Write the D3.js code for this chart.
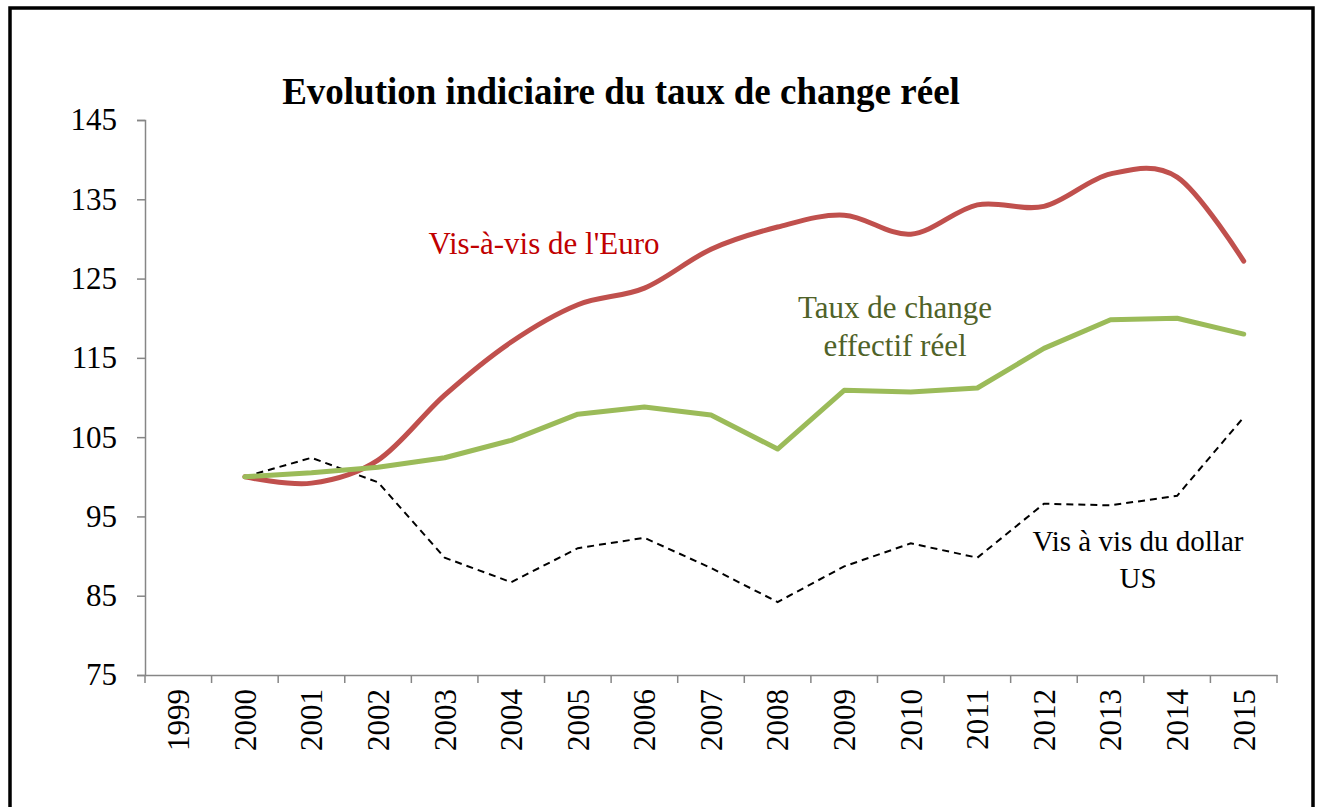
<!DOCTYPE html>
<html>
<head>
<meta charset="utf-8">
<script src="https://cdn.jsdelivr.net/npm/d3@7"></script>
<style>
  body { margin: 0; background: #fff; }
  svg text { font-family: "Liberation Serif", "Times New Roman", serif; }
</style>
</head>
<body>
<div id="chart"></div>
<script>
// data
var years = ["1999", "2000", "2001", "2002", "2003", "2004", "2005", "2006", "2007",
  "2008", "2009", "2010", "2011", "2012", "2013", "2014", "2015"];
var seriesYears = years.slice(1);
var euro = [100, 99.2, 102.1, 110.3, 117.0, 121.7, 123.8, 128.7, 131.5, 133.0, 130.6, 134.3, 134.1, 138.2, 137.8, 127.2];
var effectif = [100, 100.5, 101.2, 102.4, 104.6, 107.9, 108.8, 107.8, 103.5, 110.9, 110.7, 111.2, 116.2, 119.8, 120.0, 118.0];
var dollar = [100, 102.4, 99.3, 89.8, 86.7, 91.0, 92.3, 88.5, 84.2, 88.7, 91.6, 89.8, 96.6, 96.4, 97.6, 107.5];
var yTicks = [75, 85, 95, 105, 115, 125, 135, 145];

// dimensions
var svgWidth = 1317;
var svgHeight = 807;
var margin = { top: 120, right: 40, bottom: 132, left: 145 };
var width = 1277 - margin.left;
var height = 675 - margin.top;
var fontSize = 31;

var svg = d3.select("#chart").append("svg")
  .attr("width", svgWidth)
  .attr("height", svgHeight);

// outer frame
svg.append("rect")
  .attr("x", 10).attr("y", 8)
  .attr("width", 1303).attr("height", 830)
  .attr("fill", "none")
  .attr("stroke", "#000")
  .attr("stroke-width", 3.5);

svg.append("text")
  .attr("x", 621).attr("y", 104)
  .attr("text-anchor", "middle")
  .attr("font-size", 37)
  .attr("font-weight", "bold")
  .text("Evolution indiciaire du taux de change réel");

var chartGroup = svg.append("g")
  .attr("transform", `translate(${margin.left}, ${margin.top})`);

// scales
var xScale = d3.scaleBand().domain(years).range([0, width]);
var yScale = d3.scaleLinear().domain([75, 145]).range([height, 0]);
var xc = function(yr) { return xScale(yr) + xScale.bandwidth() / 2; };

// y axis
var leftAxis = d3.axisLeft(yScale).tickValues(yTicks).tickSize(8).tickPadding(20);
var gy = chartGroup.append("g").call(leftAxis);
gy.select(".domain").attr("stroke", "#868686").attr("stroke-width", 1.5);
gy.selectAll(".tick line").attr("stroke", "#868686").attr("stroke-width", 1.5);
gy.selectAll(".tick text")
  .attr("font-size", fontSize).attr("fill", "#000");

// x axis
var bottomAxis = d3.axisBottom(xScale).tickSize(0).tickPadding(0);
var gx = chartGroup.append("g")
  .attr("transform", `translate(0, ${height})`)
  .call(bottomAxis);
gx.select(".domain").attr("stroke", "#868686").attr("stroke-width", 1.5);
gx.selectAll(".tick text")
  .attr("font-size", fontSize).attr("fill", "#000")
  .attr("text-anchor", "end")
  .attr("transform", "translate(0, 14) rotate(-90)")
  .attr("dx", 0).attr("dy", "0.35em")
  .attr("y", 0).attr("x", 0);

// band boundary ticks
var bounds = years.map(function(y) { return xScale(y); }).concat([width]);
gx.selectAll(".btick").data(bounds).enter().append("line")
  .attr("class", "btick")
  .attr("x1", d => d).attr("x2", d => d)
  .attr("y1", 0).attr("y2", 8)
  .attr("stroke", "#868686").attr("stroke-width", 1.5);

// lines
function pts(vals) {
  return vals.map(function(v, i) { return { year: seriesYears[i], value: v }; });
}
var straight = d3.line().x(d => xc(d.year)).y(d => yScale(d.value));
var smooth = d3.line().x(d => xc(d.year)).y(d => yScale(d.value))
  .curve(d3.curveCatmullRom.alpha(0));

chartGroup.append("path")
  .datum(pts(dollar))
  .attr("d", straight)
  .attr("fill", "none")
  .attr("stroke", "#000")
  .attr("stroke-width", 2)
  .attr("stroke-dasharray", "7,5");

chartGroup.append("path")
  .datum(pts(euro))
  .attr("d", smooth)
  .attr("fill", "none")
  .attr("stroke", "#c0504d")
  .attr("stroke-width", 5)
  .attr("stroke-linecap", "round");

chartGroup.append("path")
  .datum(pts(effectif))
  .attr("d", straight)
  .attr("fill", "none")
  .attr("stroke", "#9bbb59")
  .attr("stroke-width", 5)
  .attr("stroke-linecap", "round")
  .attr("stroke-linejoin", "round");

// annotations
svg.append("text")
  .attr("x", 544).attr("y", 254)
  .attr("text-anchor", "middle")
  .attr("font-size", fontSize)
  .attr("fill", "#c00000")
  .text("Vis-à-vis de l'Euro");

var g2 = svg.append("text")
  .attr("text-anchor", "middle")
  .attr("font-size", fontSize)
  .attr("fill", "#4f6228");
g2.append("tspan").attr("x", 895).attr("y", 318).text("Taux de change");
g2.append("tspan").attr("x", 895).attr("y", 356).text("effectif réel");

var g3 = svg.append("text")
  .attr("text-anchor", "middle")
  .attr("font-size", 29)
  .attr("fill", "#000");
g3.append("tspan").attr("x", 1138).attr("y", 551).text("Vis à vis du dollar");
g3.append("tspan").attr("x", 1138).attr("y", 588).text("US");
</script>
</body>
</html>
